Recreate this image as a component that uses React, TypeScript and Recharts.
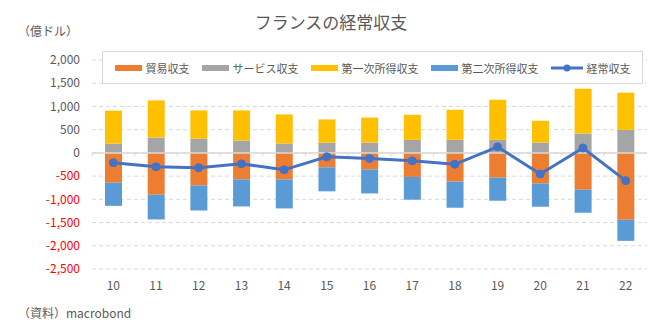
import React from 'react';
import { ComposedChart, Bar, Line, XAxis, YAxis, CartesianGrid, ReferenceLine, Legend } from 'recharts';

// 年（20xx年）
const years = ['10', '11', '12', '13', '14', '15', '16', '17', '18', '19', '20', '21', '22'];

// 億ドル
const tradeBalance = [-640, -900, -700, -570, -570, -310, -355, -518, -619, -533, -662, -792, -1440];
const servicesBalance = [200, 330, 310, 266, 202, 223, 223, 281, 281, 281, 223, 418, 497];
const primaryIncome = [710, 800, 604, 648, 626, 497, 537, 540, 648, 864, 468, 964, 799];
const secondaryIncome = [-500, -533, -540, -583, -626, -518, -518, -490, -562, -497, -497, -497, -454];
const currentAccount = [-210, -300, -320, -235, -365, -85, -120, -170, -245, 130, -455, 105, -598];

const yTicks = [-2500, -2000, -1500, -1000, -500, 0, 500, 1000, 1500, 2000];

const seriesNames = ['貿易収支', 'サービス収支', '第一次所得収支', '第二次所得収支', '経常収支'];
const seriesColors = ['#ED7D31', '#A5A5A5', '#FFC000', '#5B9BD5', '#4472C4'];

const data = years.map((year, i) => ({
  year,
  trade: tradeBalance[i],
  services: servicesBalance[i],
  primary: primaryIncome[i],
  secondary: secondaryIncome[i],
  current: currentAccount[i],
}));

const FONT = '"Noto Sans CJK JP", "Noto Sans", sans-serif';
const TEXT = '#595959';

const YTick = (props: any) => {
  const { x, y, payload } = props;
  const v = payload.value as number;
  return (
    <text x={x} y={y} dy="0.35em" textAnchor="end" fontSize={12} fontFamily={FONT} fill={v < 0 ? '#FF0000' : TEXT}>
      {v.toLocaleString('en-US')}
    </text>
  );
};

const LegendBox = () => (
  <div
    style={{
      width: 541,
      height: 33,
      boxSizing: 'border-box',
      background: '#fff',
      border: '1px solid #d9d9d9',
      display: 'flex',
      alignItems: 'center',
      justifyContent: 'center',
      gap: 12,
      fontFamily: FONT,
      fontSize: 11,
      color: TEXT,
    }}
  >
    {seriesNames.map((name, i) => (
      <div key={name} style={{ display: 'flex', alignItems: 'center', gap: 4 }}>
        {i < 4 ? (
          <span style={{ display: 'inline-block', width: 27, height: 6, background: seriesColors[i] }} />
        ) : (
          <svg width={32} height={10}>
            <line x1={0} y1={5} x2={32} y2={5} stroke={seriesColors[i]} strokeWidth={3} />
            <circle cx={16} cy={5} r={3.5} fill={seriesColors[i]} />
          </svg>
        )}
        <span>{name}</span>
      </div>
    ))}
  </div>
);

export default function App() {
  return (
    <div style={{ position: 'absolute', left: 0, top: 0, width: 662, height: 334, background: '#fff', fontFamily: FONT }}>
      <div style={{ position: 'absolute', top: 9, left: 0, width: 662, textAlign: 'center', fontSize: 17, color: TEXT }}>
        フランスの経常収支
      </div>
      <div style={{ position: 'absolute', top: 22, left: 18, fontSize: 12, color: TEXT }}>（億ドル）</div>
      <div style={{ position: 'absolute', top: 304, left: 18, fontSize: 12, color: TEXT }}>（資料）macrobond</div>

      <ComposedChart
        width={662}
        height={334}
        data={data}
        stackOffset="sign"
        margin={{ top: 60, right: 15, bottom: 35, left: 0 }}
        style={{ position: 'absolute', left: 0, top: 0 }}
      >
        <CartesianGrid vertical={false} stroke="#d9d9d9" strokeDasharray="4 3" />
        <XAxis
          dataKey="year"
          axisLine={false}
          tickLine={false}
          tickSize={0}
          tickMargin={12}
          height={30}
          tick={{ fill: TEXT, fontSize: 12, fontFamily: FONT }}
        />
        <YAxis
          domain={[-2500, 2000]}
          ticks={yTicks}
          interval={0}
          axisLine={false}
          tickLine={false}
          tickSize={0}
          tickMargin={12}
          width={92}
          tick={<YTick />}
        />
        <ReferenceLine y={0} stroke="#d9d9d9" strokeWidth={1.5} />
        {years.map((year) => (
          <ReferenceLine
            key={`t-${year}`}
            segment={[{ x: year, y: 0 }, { x: year, y: -70 }]}
            position="start"
            stroke="#d9d9d9"
          />
        ))}
        <ReferenceLine
          segment={[{ x: years[years.length - 1], y: 0 }, { x: years[years.length - 1], y: -70 }]}
          position="end"
          stroke="#d9d9d9"
        />
        <Bar dataKey="trade" name={seriesNames[0]} stackId="a" fill={seriesColors[0]} barSize={17} isAnimationActive={false} />
        <Bar dataKey="services" name={seriesNames[1]} stackId="a" fill={seriesColors[1]} barSize={17} isAnimationActive={false} />
        <Bar dataKey="primary" name={seriesNames[2]} stackId="a" fill={seriesColors[2]} barSize={17} isAnimationActive={false} />
        <Bar dataKey="secondary" name={seriesNames[3]} stackId="a" fill={seriesColors[3]} barSize={17} isAnimationActive={false} />
        <Line
          dataKey="current"
          name={seriesNames[4]}
          stroke={seriesColors[4]}
          strokeWidth={3}
          dot={{ r: 4, fill: seriesColors[4], stroke: seriesColors[4], strokeWidth: 1 }}
          isAnimationActive={false}
        />
        <Legend
          layout="horizontal"
          verticalAlign="middle"
          align="center"
          content={<LegendBox />}
          wrapperStyle={{ position: 'absolute', top: 51, left: 102, width: 541, height: 33 }}
        />
      </ComposedChart>
    </div>
  );
}
